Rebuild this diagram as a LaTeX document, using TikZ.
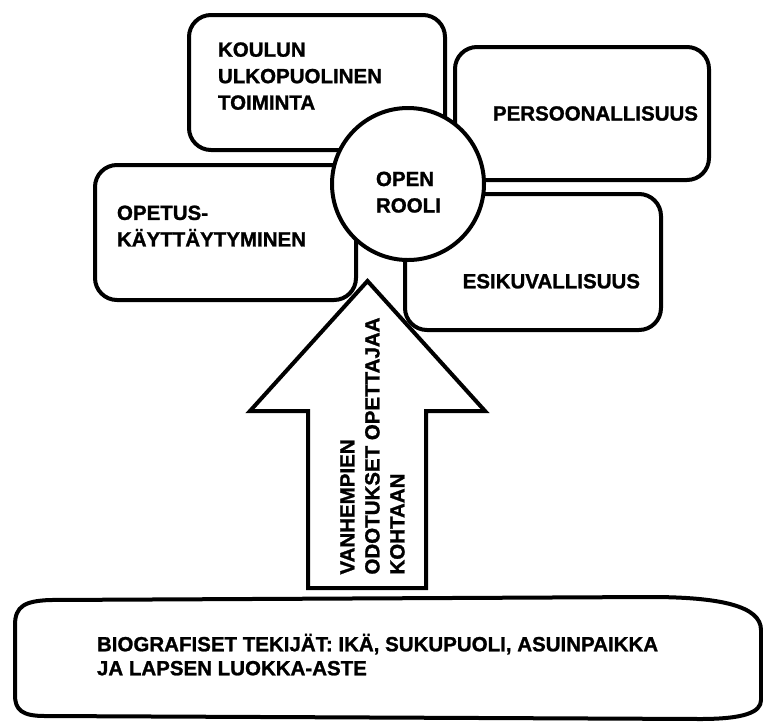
\documentclass[tikz,border=0pt]{standalone}
\usepackage{fontspec}
\setmainfont{Liberation Sans Bold}[FakeBold=1.2]

\begin{document}
\begin{tikzpicture}[x=1pt, y=-1pt]
\path [fill=white, use as bounding box] (0, 0) rectangle (763, 724);

\begin{scope}[every node/.style={rectangle,rounded corners=22pt,draw,line width=4pt,fill=white,
              font=\fontsize{20.5}{26.5}\selectfont}]
    \node (koulun) at (317, 82.5) [minimum width=256pt, minimum height=135pt, inner xsep=29pt, text width=198pt, align=left, text depth=66pt] {KOULUN\\ ULKOPUOLINEN\\ TOIMINTA};

    \node (persoona) at (582, 113.5) [minimum width=254pt, minimum height=133pt, inner xsep=11pt, text width=232pt, align=right] {PERSOONALLISUUS};

    \node (opetus) at (225.5, 232.5) [minimum width=261pt, minimum height=135pt, inner xsep=22pt, text width=217pt, align=left, text depth=39.5pt] {OPETUS-\\ KÄYTTÄYTYMINEN};

    \node (esikuva) at (533, 262) [minimum width=256pt, minimum height=136pt, inner xsep=21pt, text width=214pt, align=right, text height=52.6pt, text depth=0pt] {ESIKUVALLISUUS};

    \node (rooli) at (408, 184) [shape=circle, minimum size=152pt, inner sep=0pt, text width=64pt, align=left, text height=30.7pt] {OPEN\\ ROOLI};
\end{scope}

\begin{scope}[line width=4pt,
              every node/.style={inner sep=0pt,align=left}]
    \draw (308, 588) -- (308, 411) -- (250, 411) -- (367.5, 281) -- (485, 411) -- (426, 411) -- (426, 588) -- cycle;
    \node (odotukset) at (372.5, 446) [rotate=90, font=\fontsize{20.5}{25}\selectfont] {VANHEMPIEN\\ ODOTUKSET OPETTAJAA\\ KOHTAAN};

    \draw (15, 625) .. controls (15, 606) and (25, 601) .. (50, 600) -- (650, 597)
          .. controls (720, 597) and (761, 606) .. (761, 630) -- (761, 700)
          .. controls (761, 712) and (745, 719) .. (700, 719) -- (45, 716)
          .. controls (22, 716) and (15, 710) .. (15, 695) -- cycle;
    \node (biografiset) at (95, 654.6) [anchor=west, font=\fontsize{20.5}{24}\selectfont] {BIOGRAFISET TEKIJÄT: IKÄ, SUKUPUOLI, ASUINPAIKKA\\ JA LAPSEN LUOKKA-ASTE};
\end{scope}
\end{tikzpicture}
\end{document}
